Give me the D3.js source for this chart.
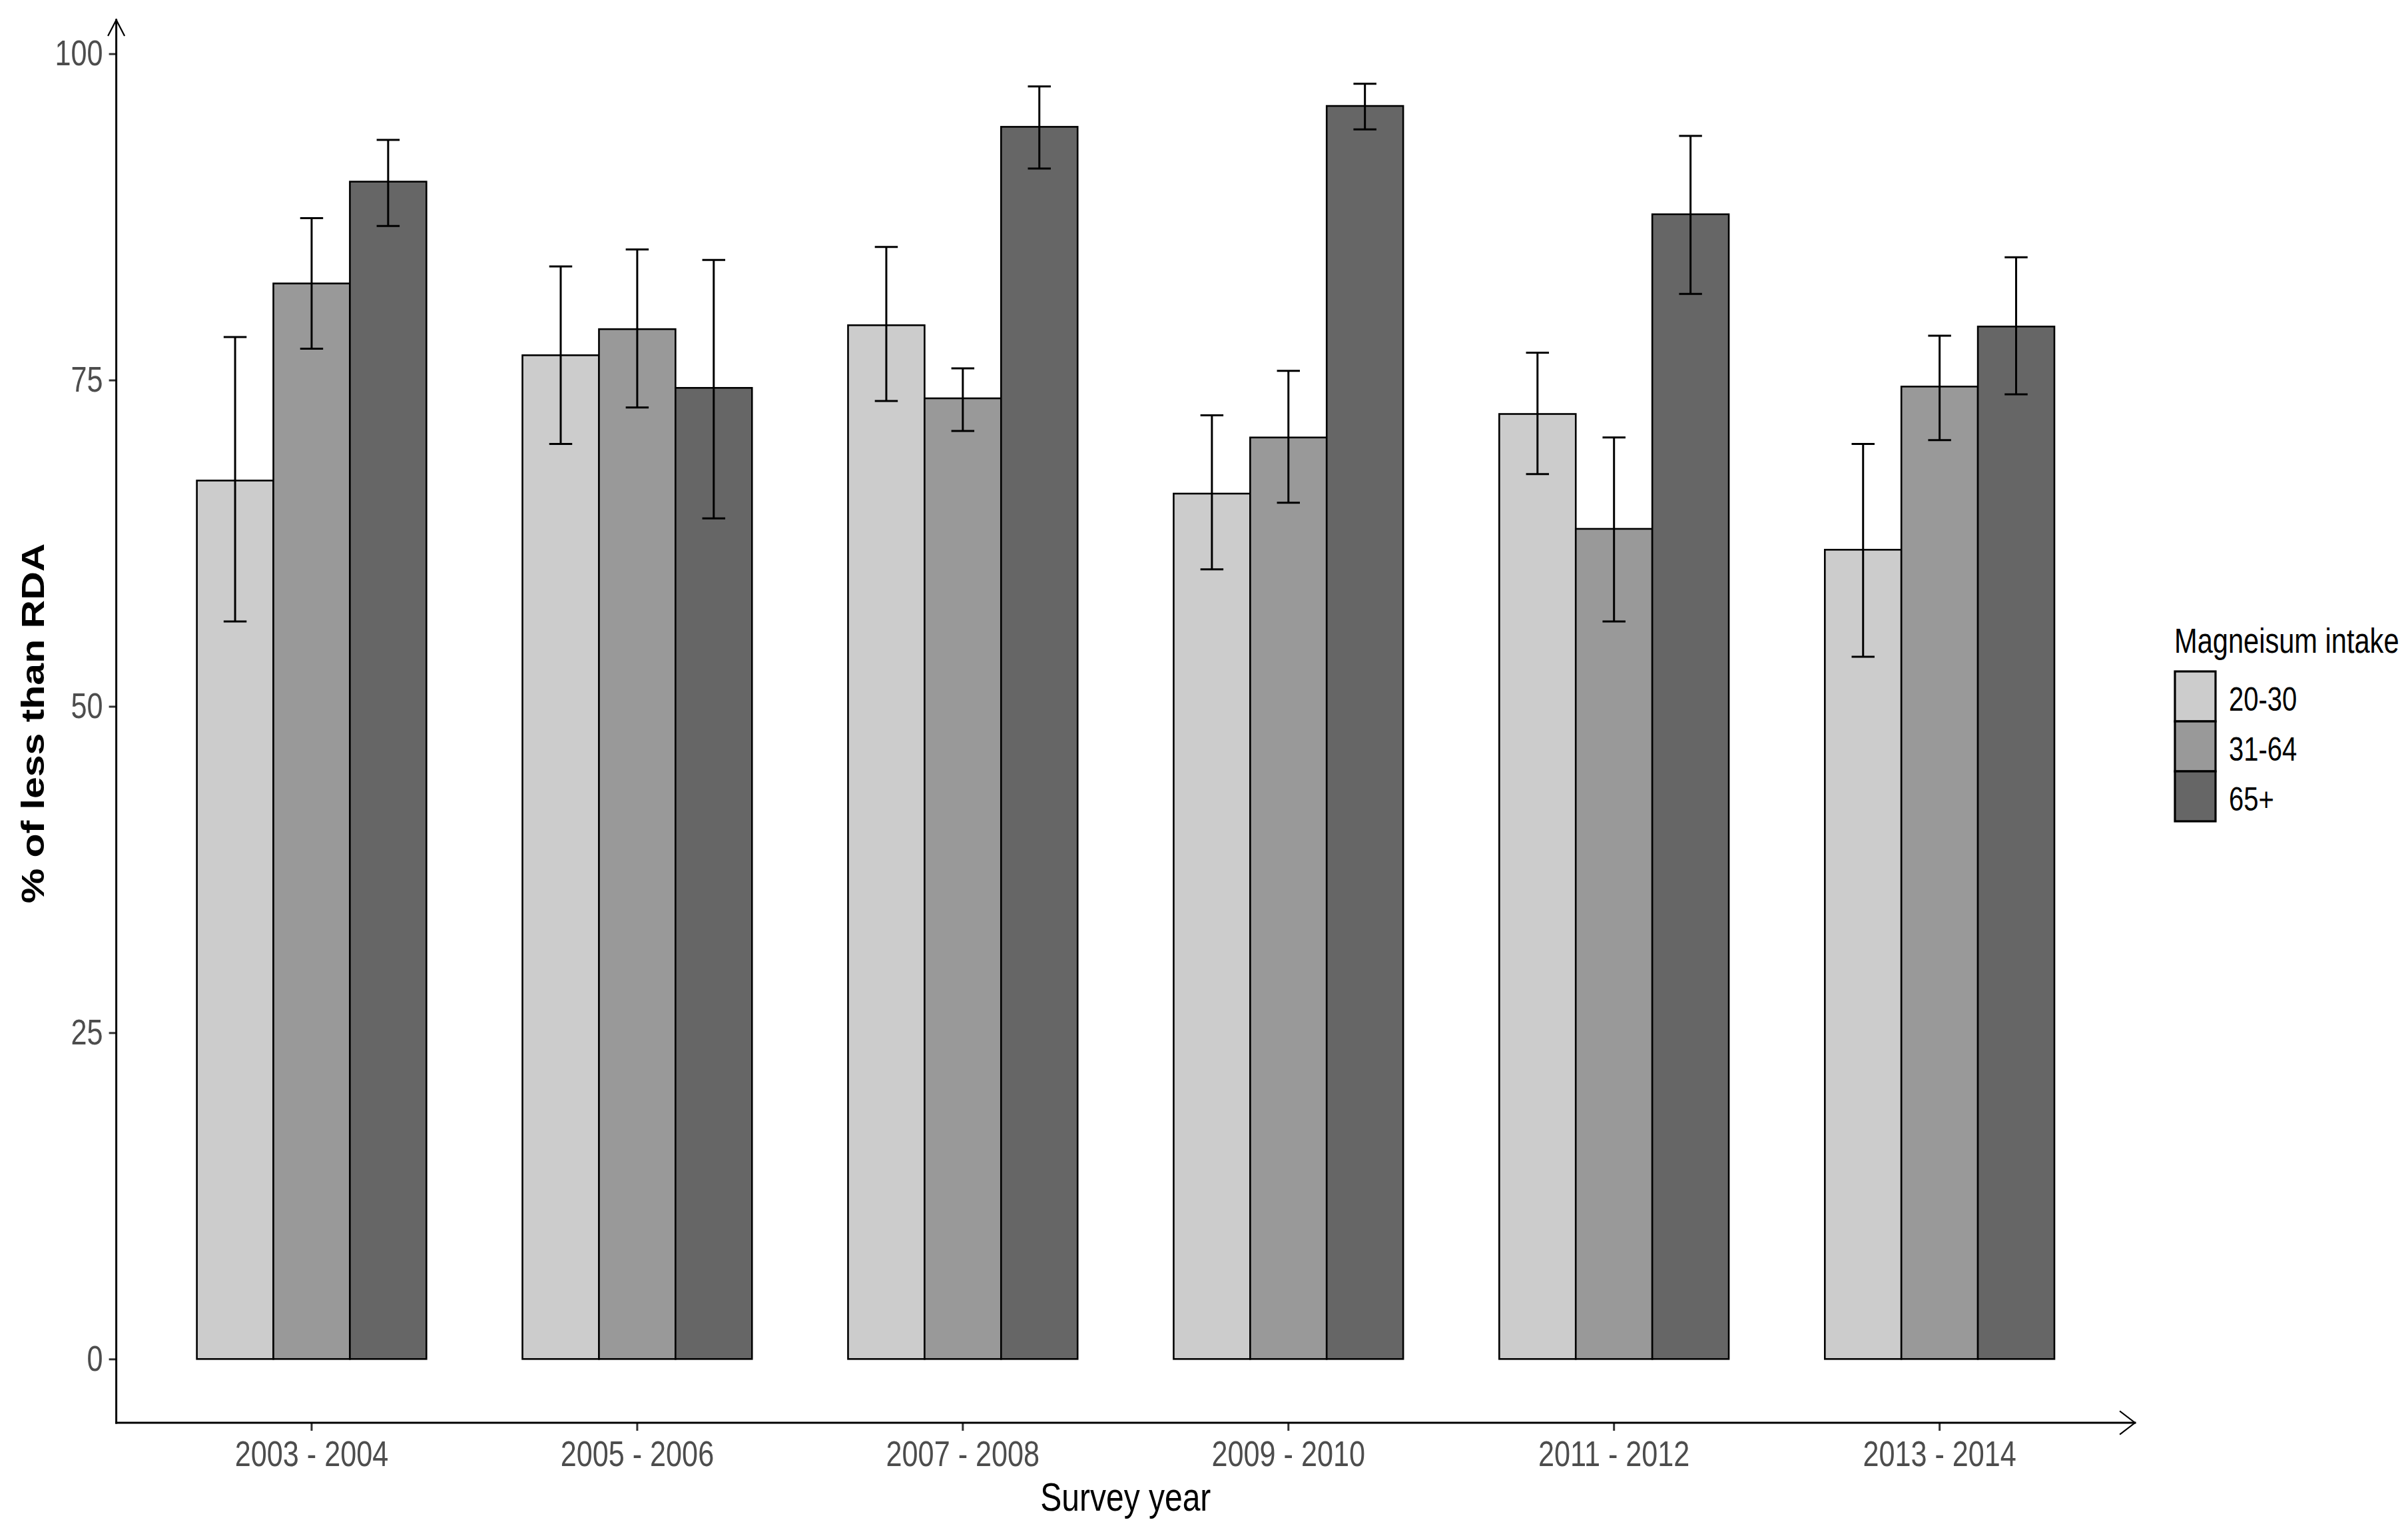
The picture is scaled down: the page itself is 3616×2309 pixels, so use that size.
<!DOCTYPE html>
<html>
<head>
<meta charset="utf-8">
<script src="https://cdn.jsdelivr.net/npm/d3@7"></script>
<style>
  html, body { margin: 0; padding: 0; background: #ffffff; }
  svg { display: block; }
  text { font-family: "Liberation Sans", Arial, Helvetica, sans-serif; }
</style>
</head>
<body>
<svg id="chart" width="3616" height="2309"></svg>
<script>
// ---------------- data ----------------
const categories = ["2003 - 2004", "2005 - 2006", "2007 - 2008", "2009 - 2010", "2011 - 2012", "2013 - 2014"];
const groups = ["20-30", "31-64", "65+"];

const value_20_30 = [67.3, 76.9, 79.2, 66.3, 72.4, 62.0];
const value_31_64 = [82.4, 78.9, 73.6, 70.6, 63.6, 74.5];
const value_65 = [90.2, 74.4, 94.4, 96.0, 87.7, 79.1];

const lower_20_30 = [56.5, 70.1, 73.4, 60.5, 67.8, 53.8];
const upper_20_30 = [78.3, 83.7, 85.2, 72.3, 77.1, 70.1];
const lower_31_64 = [77.4, 72.9, 71.1, 65.6, 56.5, 70.4];
const upper_31_64 = [87.4, 85.0, 75.9, 75.7, 70.6, 78.4];
const lower_65 = [86.8, 64.4, 91.2, 94.2, 81.6, 73.9];
const upper_65 = [93.4, 84.2, 97.5, 97.7, 93.7, 84.4];

const yTicks = [0, 25, 50, 75, 100];
const fills = ["#cccccc", "#999999", "#666666"];

const xTitle = "Survey year";
const yTitle = "% of less than RDA";
const legendTitle = "Magneisum intake";

// ---------------- build rows ----------------
const seriesValues = [value_20_30, value_31_64, value_65];
const seriesLower = [lower_20_30, lower_31_64, lower_65];
const seriesUpper = [upper_20_30, upper_31_64, upper_65];
const rows = [];
categories.forEach((c, i) => {
  groups.forEach((g, j) => {
    rows.push({ cat: c, grp: g, v: seriesValues[j][i], lo: seriesLower[j][i], hi: seriesUpper[j][i], fill: fills[j] });
  });
});

// ---------------- layout ----------------
const SX = 0.8; // horizontal text compression seen in the reference
const plot = { left: 174.6, right: 3206, top: 30, bottom: 2136 };

const svg = d3.select("#chart");
svg.append("rect").attr("width", 3616).attr("height", 2309).attr("fill", "#ffffff");

const x = d3.scaleBand().domain(categories).range([plot.left, plot.right]).paddingInner(0).paddingOuter(0.1);
const dodgeWidth = 0.705 * x.bandwidth();
const xSub = d3.scaleBand().domain(groups).range([-dodgeWidth / 2, dodgeWidth / 2]).padding(0);

const yMax = d3.max(rows, d => d.hi);
const y = d3.scaleLinear().domain([-0.05 * yMax, 1.05 * yMax]).range([plot.bottom, plot.top]);

// ---------------- bars ----------------
const gBars = svg.append("g");
gBars.selectAll("rect.bar").data(rows).enter().append("rect")
  .attr("class", "bar")
  .attr("x", d => x(d.cat) + x.bandwidth() / 2 + xSub(d.grp))
  .attr("width", xSub.bandwidth())
  .attr("y", d => y(d.v))
  .attr("height", d => y(0) - y(d.v))
  .attr("fill", d => d.fill)
  .attr("stroke", "#000")
  .attr("stroke-width", 2.6);

// ---------------- error bars ----------------
const capW = 0.3 * xSub.bandwidth();
const gErr = svg.append("g").attr("stroke", "#000").attr("stroke-width", 3).attr("fill", "none");
const cx = d => x(d.cat) + x.bandwidth() / 2 + xSub(d.grp) + xSub.bandwidth() / 2;
gErr.selectAll("path").data(rows).enter().append("path")
  .attr("d", d => {
    const c = cx(d);
    return `M${c - capW / 2},${y(d.hi)}H${c + capW / 2}M${c},${y(d.hi)}V${y(d.lo)}M${c - capW / 2},${y(d.lo)}H${c + capW / 2}`;
  });

// ---------------- axes ----------------
const yAxis = svg.append("g").attr("transform", `translate(${plot.left},0)`)
  .call(d3.axisLeft(y).tickValues(yTicks).tickSize(11).tickPadding(9).tickSizeOuter(0));
yAxis.select(".domain").remove();
yAxis.selectAll(".tick line").attr("stroke", "#333333").attr("stroke-width", 3);
yAxis.selectAll(".tick text")
  .attr("font-size", 54).attr("fill", "#4d4d4d")
  .attr("transform", `scale(${SX},1)`)
  .attr("x", -20 / SX);

const xAxis = svg.append("g").attr("transform", `translate(0,${plot.bottom})`)
  .call(d3.axisBottom(x).tickSize(12).tickPadding(15).tickSizeOuter(0));
xAxis.select(".domain").remove();
xAxis.selectAll(".tick line").attr("stroke", "#333333").attr("stroke-width", 3);
xAxis.selectAll(".tick text")
  .attr("font-size", 54).attr("fill", "#4d4d4d")
  .attr("transform", `scale(${SX},1)`);

// axis lines with open arrowheads
const gAx = svg.append("g").attr("stroke", "#000").attr("fill", "none").attr("stroke-linecap", "square");
gAx.append("line").attr("x1", plot.left).attr("x2", plot.left).attr("y1", plot.bottom).attr("y2", plot.top).attr("stroke-width", 3);
gAx.append("line").attr("x1", plot.left).attr("x2", plot.right).attr("y1", plot.bottom).attr("y2", plot.bottom).attr("stroke-width", 3);
gAx.append("path").attr("stroke-width", 2.2)
  .attr("d", `M${plot.left - 12},${plot.top + 23}L${plot.left},${plot.top}L${plot.left + 12},${plot.top + 23}`);
gAx.append("path").attr("stroke-width", 2.2)
  .attr("d", `M${plot.right - 22},${plot.bottom - 17}L${plot.right},${plot.bottom}L${plot.right - 22},${plot.bottom + 17}`);

// ---------------- titles ----------------
const midX = (plot.left + plot.right) / 2;
svg.append("text")
  .attr("transform", `translate(${midX},2268) scale(${SX},1)`)
  .attr("text-anchor", "middle").attr("font-size", 60).attr("fill", "#000")
  .text(xTitle);

const midY = (plot.top + plot.bottom) / 2 + 3;
svg.append("text")
  .attr("transform", `translate(66,${midY}) scale(${SX},1) rotate(-90)`)
  .attr("text-anchor", "middle").attr("font-size", 59).attr("font-weight", "bold").attr("fill", "#000")
  .text(yTitle);

// ---------------- legend ----------------
const legX = 3265, legTitleY = 980, keyTop = 1008, keyH = 75, keyW = 61;
const leg = svg.append("g");
leg.append("text")
  .attr("transform", `translate(${legX},${legTitleY}) scale(${SX},1)`)
  .attr("font-size", 52).attr("fill", "#000")
  .text(legendTitle);
groups.forEach((g, j) => {
  leg.append("rect")
    .attr("x", legX + 1).attr("y", keyTop + j * keyH)
    .attr("width", keyW).attr("height", keyH)
    .attr("fill", fills[j]).attr("stroke", "#000").attr("stroke-width", 3.2);
  leg.append("text")
    .attr("transform", `translate(${legX + 82},${keyTop + j * keyH + 59}) scale(${SX},1)`)
    .attr("font-size", 50).attr("fill", "#000")
    .text(g);
});
</script>
</body>
</html>
